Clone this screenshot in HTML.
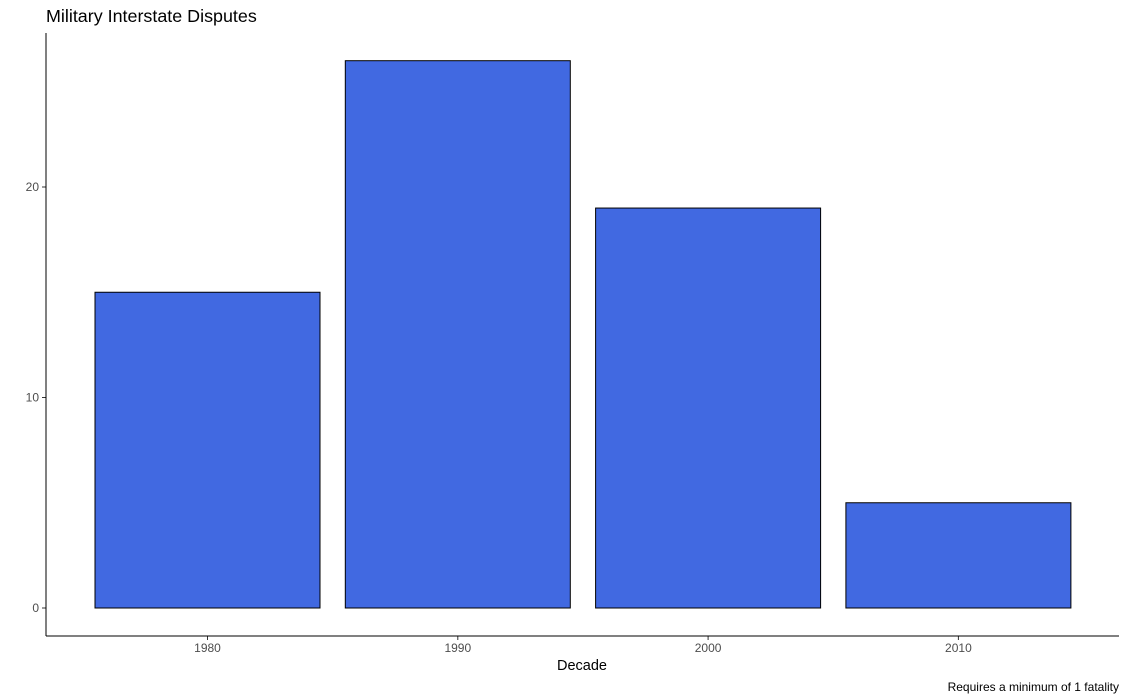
<!DOCTYPE html>
<html><head><meta charset="utf-8"><style>
body{margin:0;background:#fff;}
svg{display:block;font-family:"Liberation Sans",Arial,sans-serif;}
</style></head><body>
<svg id="chart" width="1128" height="700">
<text x="46" y="22" font-size="17.9" fill="#000">Military Interstate Disputes</text>
<g id="bars"></g>
<g id="yticks"></g>
<g id="xticks"></g>
<line x1="46" y1="33" x2="46" y2="636" stroke="#000" stroke-width="1"/>
<line x1="46" y1="636" x2="1119" y2="636" stroke="#000" stroke-width="1"/>
<text x="582" y="670" font-size="14.5" text-anchor="middle" fill="#000">Decade</text>
<text x="1119" y="691" font-size="12" text-anchor="end" fill="#000">Requires a minimum of 1 fatality</text>
</svg>
<script>
const categories = ["1980","1990","2000","2010"];
const values = [15, 26, 19, 5];
const yTicks = [0, 10, 20];

const ns = "http://www.w3.org/2000/svg";
const yScale = v => 608 - v * 21.05;
const step = 250.3, x0 = 207.5, bw = 225;
const xScale = i => x0 + i * step;

const bars = document.getElementById("bars");
values.forEach((v, i) => {
  const r = document.createElementNS(ns, "rect");
  r.setAttribute("x", xScale(i) - bw / 2);
  r.setAttribute("y", yScale(v));
  r.setAttribute("width", bw);
  r.setAttribute("height", yScale(0) - yScale(v));
  r.setAttribute("fill", "#4169e1");
  r.setAttribute("stroke", "#000");
  r.setAttribute("stroke-width", "1");
  
  
  bars.appendChild(r);
});

const yg = document.getElementById("yticks");
yTicks.forEach(t => {
  const l = document.createElementNS(ns, "line");
  l.setAttribute("x1", 42); l.setAttribute("x2", 46);
  l.setAttribute("y1", yScale(t)); l.setAttribute("y2", yScale(t));
  l.setAttribute("stroke", "#333");
  
  
  yg.appendChild(l);
  const tx = document.createElementNS(ns, "text");
  tx.setAttribute("x", 39); tx.setAttribute("y", yScale(t) + 4);
  tx.setAttribute("text-anchor", "end");
  tx.setAttribute("font-size", "12"); tx.setAttribute("fill", "#4d4d4d");
  tx.textContent = t;
  
  
  yg.appendChild(tx);
});

const xg = document.getElementById("xticks");
categories.forEach((c, i) => {
  const l = document.createElementNS(ns, "line");
  l.setAttribute("x1", xScale(i)); l.setAttribute("x2", xScale(i));
  l.setAttribute("y1", 636); l.setAttribute("y2", 640);
  l.setAttribute("stroke", "#333");
  
  
  xg.appendChild(l);
  const tx = document.createElementNS(ns, "text");
  tx.setAttribute("x", xScale(i)); tx.setAttribute("y", 652);
  tx.setAttribute("text-anchor", "middle");
  tx.setAttribute("font-size", "12"); tx.setAttribute("fill", "#4d4d4d");
  tx.textContent = c;
  
  
  xg.appendChild(tx);
});
</script>
</body></html>
